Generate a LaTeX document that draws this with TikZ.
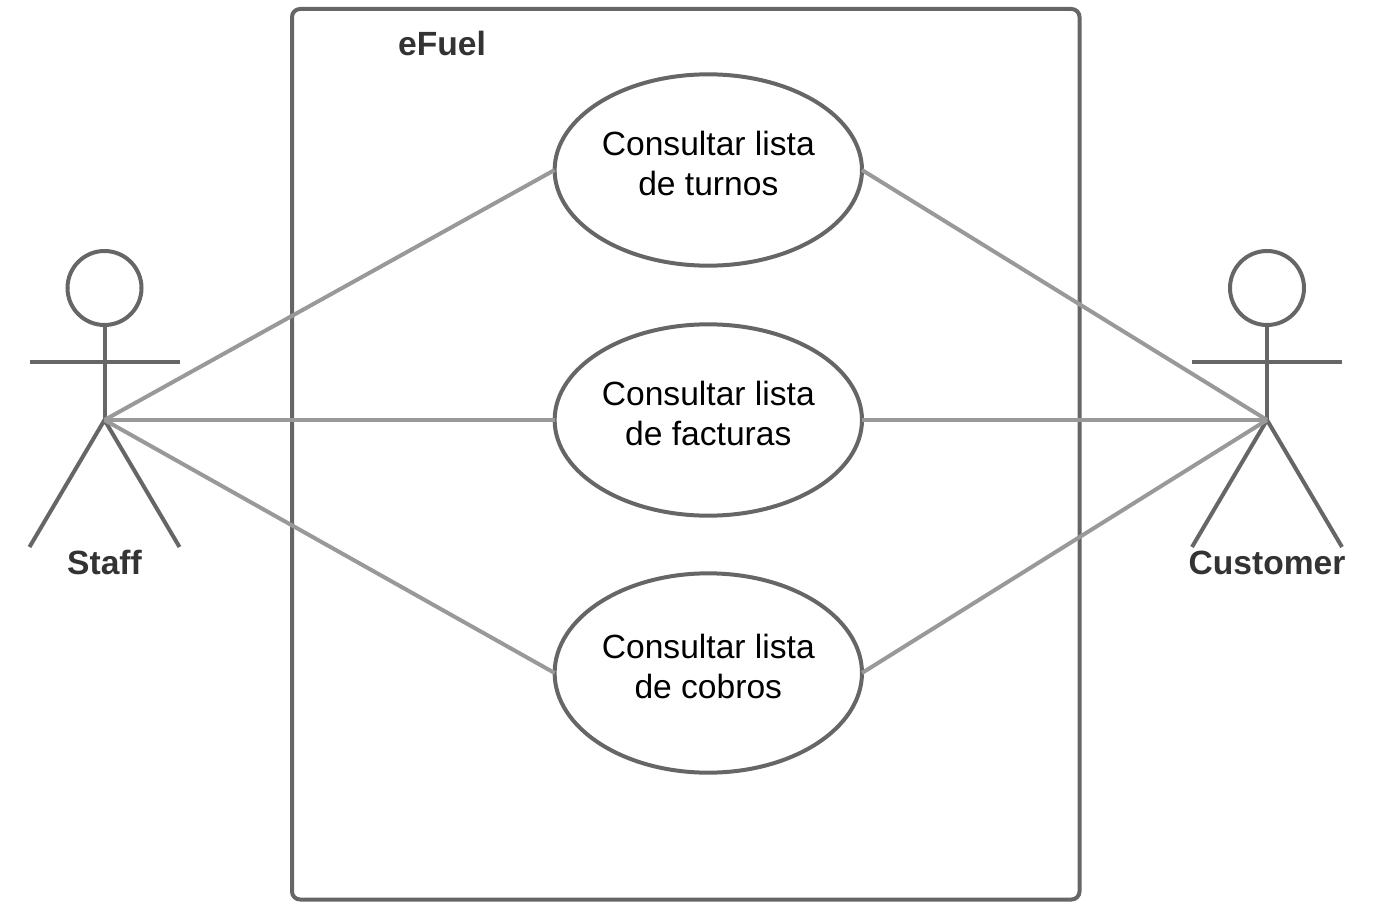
\documentclass[tikz,border=0pt]{standalone}
\usepackage{fontspec}
\setmainfont{Liberation Sans}
\usepackage{xcolor}
\usetikzlibrary{shapes,positioning,calc}
\definecolor{shapeline}{HTML}{666666}
\definecolor{linkline}{HTML}{999999}
\definecolor{titletext}{HTML}{333333}
\newcommand{\uctext}[1]{\raisebox{1.7pt}[\height][\depth]{\begin{tabular}{@{}c@{}}#1\end{tabular}}}
\tikzset{
    usecase/.style={draw=shapeline, ellipse, line width=3pt, inner sep=0pt, outer sep=0pt, minimum width=230.5pt, font=\fontsize{25.2}{30}\selectfont},
    actorlabel/.style={text=titletext, font=\fontsize{25.2}{30}\selectfont\bfseries},
    actorline/.style={draw=shapeline, line width=3pt},
    linkstyle/.style={draw=linkline, line width=3pt}
}

\begin{document}
\begin{tikzpicture}[x=0.75pt, y=-0.75pt]
    \useasboundingbox (0, 0) rectangle (1374, 924);
    \draw[actorline, rounded corners=6pt] (292, 9) rectangle (1079.5, 899.5);
    \node[actorlabel] (title) at (442, 43.3) {eFuel};

    \node[usecase, minimum height=143.5pt] (turnos) at (708.3, 170) {\uctext{Consultar lista\\de turnos}};
    \node[usecase, minimum height=143.5pt] (facturas) at (708.3, 420) {\uctext{Consultar lista\\de facturas}};
    \node[usecase, minimum height=149.5pt] (cobros) at (708.3, 673) {\uctext{Consultar lista\\de cobros}};

    % actors
    \foreach \name/\x/\label in {staff/104.5/Staff, customer/1267/Customer} {
        \node[actorline, circle, inner sep=0pt, outer sep=0pt, minimum size=55.5pt] (\name head) at (\x, 288) {};
        \coordinate (\name neck) at (\x, 420);
        \coordinate (\name armL) at (\x-75, 361.5);
        \coordinate (\name armR) at (\x+75, 361.5);
        \coordinate (\name footL) at (\x-75, 547);
        \coordinate (\name footR) at (\x+75, 547);
        \draw[actorline] (\name head) -- (\name neck);
        \draw[actorline] (\name armL) -- (\name armR);
        \draw[actorline] (\name footL) -- (\name neck) -- (\name footR);
        \node[actorlabel, text depth=0pt, anchor=base] (\name label) at (\x, 574.5) {\label};
    }

    \foreach \uc in {turnos, facturas, cobros} {
        \draw[linkstyle] (staffneck) -- (\uc.west);
        \draw[linkstyle] (customerneck) -- (\uc.east);
    }
\end{tikzpicture}
\end{document}
